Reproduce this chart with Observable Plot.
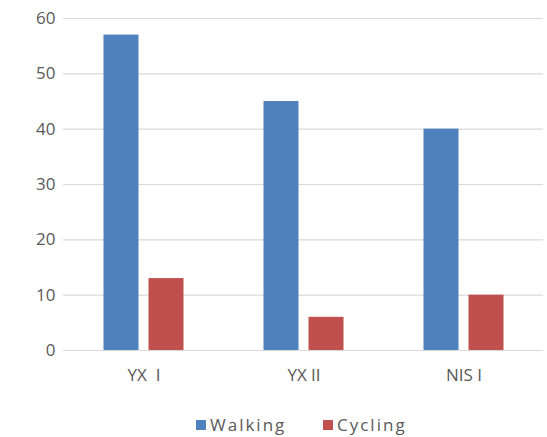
<!DOCTYPE html>
<html>
<head>
<meta charset="utf-8">
<script src="https://cdn.jsdelivr.net/npm/d3@7"></script>
<script src="https://cdn.jsdelivr.net/npm/@observablehq/plot@0.6"></script>
<style>
  body { margin: 0; background: #fff; font-family: "Open Sans", sans-serif; }
  #chart svg text { white-space: pre; }
  .legend { position: relative; height: 42px; width: 547px; font-size: 17px; color: #595959; letter-spacing: 2px; }
  .legend .item { position: absolute; top: 21px; display: flex; align-items: center; line-height: 17px; }
  .legend .sw { width: 10px; height: 10px; margin-right: 4px; }
</style>
</head>
<body>
<div id="chart"></div>
<script>
const categories = ["YX  I", "YX II", "NIS I"];
const seriesNames = ["Walking", "Cycling"];
const walking = [57, 45, 40];
const cycling = [13, 6, 10];
const colors = ["#4F81BD", "#C0504D"];
const yTicks = [0, 10, 20, 30, 40, 50, 60];

const walkData = categories.map((c, i) => ({category: c, series: "Walking", value: walking[i]}));
const cycleData = categories.map((c, i) => ({category: c, series: "Cycling", value: cycling[i]}));

const chart = Plot.plot({
  width: 547,
  height: 395,
  marginTop: 18,
  marginLeft: 63,
  marginRight: 4,
  marginBottom: 45,
  style: {fontFamily: "Open Sans, sans-serif", fontSize: "16px", color: "#595959", background: "#fff"},
  x: {domain: categories, paddingInner: 0.78125, paddingOuter: 0.390625, label: null},
  y: {domain: [0, 60], label: null},
  color: {domain: seriesNames, range: colors},
  marks: [
    Plot.ruleY(yTicks, {stroke: "#d9d9d9", strokeWidth: 1.2}),
    Plot.barY(walkData, {x: "category", y: "value", fill: "series", dx: -22.5}),
    Plot.barY(cycleData, {x: "category", y: "value", fill: "series", dx: 22.5}),
    Plot.axisY({ticks: yTicks, tickSize: 0, tickPadding: 8, label: null, fontSize: 17}),
    Plot.axisX({tickSize: 0, tickPadding: 18, label: null, fontSize: 17})
  ]
});
document.getElementById("chart").appendChild(chart);

const legend = document.createElement("div");
legend.className = "legend";
const lefts = [196, 323];
seriesNames.forEach((s, i) => {
  const item = document.createElement("div");
  item.className = "item";
  item.style.left = lefts[i] + "px";
  const sw = document.createElement("span");
  sw.className = "sw";
  sw.style.background = colors[i];
  const t = document.createElement("span");
  t.textContent = s;
  item.appendChild(sw);
  item.appendChild(t);
  legend.appendChild(item);
});
document.getElementById("chart").appendChild(legend);
</script>
</body>
</html>
